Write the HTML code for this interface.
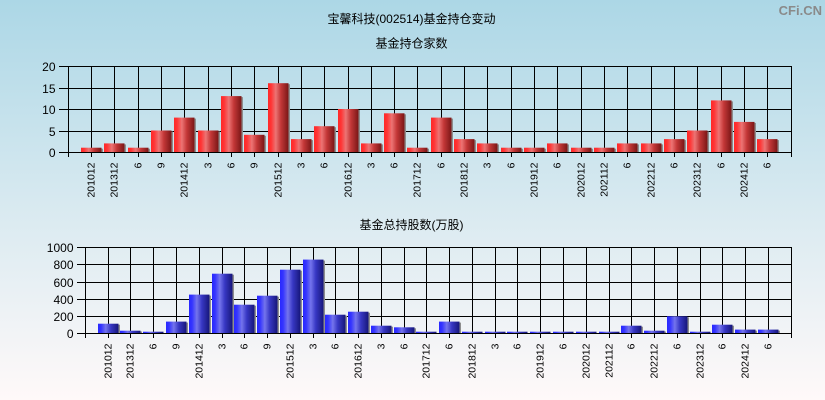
<!DOCTYPE html>
<html>
<head>
<meta charset="utf-8">
<style>
html,body{margin:0;padding:0;}
body{width:825px;height:400px;overflow:hidden;}
svg{display:block;}
text{font-family:"Liberation Sans","Noto Sans CJK SC",sans-serif;fill:#000;}
.yl{font-size:12px;text-anchor:end;}
.xl{font-size:10.5px;text-anchor:end;}
.t{font-size:12px;text-anchor:middle;}
</style>
</head>
<body>
<svg width="825" height="400" viewBox="0 0 825 400" xmlns="http://www.w3.org/2000/svg">
<defs>
<linearGradient id="bg" x1="0" y1="0" x2="0" y2="1">
<stop offset="0" stop-color="#acd7e6"/>
<stop offset="0.5" stop-color="#d7e9f0"/>
<stop offset="1" stop-color="#fff9f9"/>
</linearGradient>
<linearGradient id="red" x1="0" y1="0" x2="1" y2="0">
<stop offset="0" stop-color="#ff2828"/>
<stop offset="0.15" stop-color="#ff3434"/>
<stop offset="0.38" stop-color="#ec7474"/>
<stop offset="0.62" stop-color="#c43838"/>
<stop offset="1" stop-color="#7a1616"/>
</linearGradient>
<linearGradient id="blue" x1="0" y1="0" x2="1" y2="0">
<stop offset="0" stop-color="#2828ff"/>
<stop offset="0.15" stop-color="#3434ff"/>
<stop offset="0.38" stop-color="#7474ec"/>
<stop offset="0.62" stop-color="#3838c4"/>
<stop offset="1" stop-color="#16167a"/>
</linearGradient>
</defs>
<rect x="0" y="0" width="825" height="400" fill="url(#bg)"/>

<!-- titles -->
<text class="t" x="411.5" y="23">宝馨科技(002514)基金持仓变动</text>
<text class="t" x="411.5" y="47.5">基金持仓家数</text>
<text class="t" x="411.5" y="229">基金总持股数(万股)</text>
<text x="822" y="15" style="font-size:13px;font-weight:bold;fill:#8a8a8a;text-anchor:end;">CFi.CN</text>

<!-- ================= TOP CHART ================= -->
<!-- grid top -->
<g stroke="#000" stroke-width="1" shape-rendering="crispEdges" fill="none">
<path d="M59 66.5H791.5M59 88.5H791.5M59 109.5H791.5M59 131.5H791.5M59 152.5H791.5"/>
<path d="M68.5 66V157M91.5 66V157M114.5 66V157M138.5 66V157M161.5 66V157M184.5 66V157M208.5 66V157M231.5 66V157M254.5 66V157M278.5 66V157M301.5 66V157M324.5 66V157M348.5 66V157M371.5 66V157M394.5 66V157M417.5 66V157M441.5 66V157M464.5 66V157M487.5 66V157M511.5 66V157M534.5 66V157M557.5 66V157M581.5 66V157M604.5 66V157M627.5 66V157M651.5 66V157M674.5 66V157M697.5 66V157M721.5 66V157M744.5 66V157M767.5 66V157M791.5 66V157"/>
</g>
<g fill="url(#red)">
<rect x="81" y="147.7" width="20.5" height="4.3"/>
<rect x="104" y="143.4" width="20.5" height="8.6"/>
<rect x="128" y="147.7" width="20.5" height="4.3"/>
<rect x="151" y="130.5" width="20.5" height="21.5"/>
<rect x="174" y="117.6" width="20.5" height="34.4"/>
<rect x="198" y="130.5" width="20.5" height="21.5"/>
<rect x="221" y="96.1" width="20.5" height="55.9"/>
<rect x="244" y="134.8" width="20.5" height="17.2"/>
<rect x="268" y="83.2" width="20.5" height="68.8"/>
<rect x="291" y="139.1" width="20.5" height="12.9"/>
<rect x="314" y="126.2" width="20.5" height="25.8"/>
<rect x="338" y="109" width="20.5" height="43"/>
<rect x="361" y="143.4" width="20.5" height="8.6"/>
<rect x="384" y="113.3" width="20.5" height="38.7"/>
<rect x="407" y="147.7" width="20.5" height="4.3"/>
<rect x="431" y="117.6" width="20.5" height="34.4"/>
<rect x="454" y="139.1" width="20.5" height="12.9"/>
<rect x="477" y="143.4" width="20.5" height="8.6"/>
<rect x="501" y="147.7" width="20.5" height="4.3"/>
<rect x="524" y="147.7" width="20.5" height="4.3"/>
<rect x="547" y="143.4" width="20.5" height="8.6"/>
<rect x="571" y="147.7" width="20.5" height="4.3"/>
<rect x="594" y="147.7" width="20.5" height="4.3"/>
<rect x="617" y="143.4" width="20.5" height="8.6"/>
<rect x="641" y="143.4" width="20.5" height="8.6"/>
<rect x="664" y="139.1" width="20.5" height="12.9"/>
<rect x="687" y="130.5" width="20.5" height="21.5"/>
<rect x="711" y="100.4" width="20.5" height="51.6"/>
<rect x="734" y="121.9" width="20.5" height="30.1"/>
<rect x="757" y="139.1" width="20.5" height="12.9"/>
</g>
<!-- shadows top -->
<g fill="#8e8e8e">
<rect x="101.5" y="148.7" width="1.5" height="3.3"/>
<rect x="124.5" y="144.4" width="1.5" height="7.6"/>
<rect x="148.5" y="148.7" width="1.5" height="3.3"/>
<rect x="171.5" y="131.5" width="1.5" height="20.5"/>
<rect x="194.5" y="118.6" width="1.5" height="33.4"/>
<rect x="218.5" y="131.5" width="1.5" height="20.5"/>
<rect x="241.5" y="97.1" width="1.5" height="54.9"/>
<rect x="264.5" y="135.8" width="1.5" height="16.2"/>
<rect x="288.5" y="84.2" width="1.5" height="67.8"/>
<rect x="311.5" y="140.1" width="1.5" height="11.9"/>
<rect x="334.5" y="127.2" width="1.5" height="24.8"/>
<rect x="358.5" y="110" width="1.5" height="42"/>
<rect x="381.5" y="144.4" width="1.5" height="7.6"/>
<rect x="404.5" y="114.3" width="1.5" height="37.7"/>
<rect x="427.5" y="148.7" width="1.5" height="3.3"/>
<rect x="451.5" y="118.6" width="1.5" height="33.4"/>
<rect x="474.5" y="140.1" width="1.5" height="11.9"/>
<rect x="497.5" y="144.4" width="1.5" height="7.6"/>
<rect x="521.5" y="148.7" width="1.5" height="3.3"/>
<rect x="544.5" y="148.7" width="1.5" height="3.3"/>
<rect x="567.5" y="144.4" width="1.5" height="7.6"/>
<rect x="591.5" y="148.7" width="1.5" height="3.3"/>
<rect x="614.5" y="148.7" width="1.5" height="3.3"/>
<rect x="637.5" y="144.4" width="1.5" height="7.6"/>
<rect x="661.5" y="144.4" width="1.5" height="7.6"/>
<rect x="684.5" y="140.1" width="1.5" height="11.9"/>
<rect x="707.5" y="131.5" width="1.5" height="20.5"/>
<rect x="731.5" y="101.4" width="1.5" height="50.6"/>
<rect x="754.5" y="122.9" width="1.5" height="29.1"/>
<rect x="777.5" y="140.1" width="1.5" height="11.9"/>
</g>
<!-- y labels top -->
<text class="yl" x="55.5" y="70.8">20</text>
<text class="yl" x="55.5" y="92.8">15</text>
<text class="yl" x="55.5" y="113.8">10</text>
<text class="yl" x="55.5" y="135.8">5</text>
<text class="yl" x="55.5" y="156.8">0</text>
<!-- x labels top -->
<g>
<text class="xl" transform="translate(94.5,162.5) rotate(-90)">201012</text>
<text class="xl" transform="translate(117.5,162.5) rotate(-90)">201312</text>
<text class="xl" transform="translate(141.5,162.5) rotate(-90)">6</text>
<text class="xl" transform="translate(164.5,162.5) rotate(-90)">9</text>
<text class="xl" transform="translate(187.5,162.5) rotate(-90)">201412</text>
<text class="xl" transform="translate(211.5,162.5) rotate(-90)">3</text>
<text class="xl" transform="translate(234.5,162.5) rotate(-90)">6</text>
<text class="xl" transform="translate(257.5,162.5) rotate(-90)">9</text>
<text class="xl" transform="translate(281.5,162.5) rotate(-90)">201512</text>
<text class="xl" transform="translate(304.5,162.5) rotate(-90)">3</text>
<text class="xl" transform="translate(327.5,162.5) rotate(-90)">6</text>
<text class="xl" transform="translate(351.5,162.5) rotate(-90)">201612</text>
<text class="xl" transform="translate(374.5,162.5) rotate(-90)">3</text>
<text class="xl" transform="translate(397.5,162.5) rotate(-90)">6</text>
<text class="xl" transform="translate(420.5,162.5) rotate(-90)">201712</text>
<text class="xl" transform="translate(444.5,162.5) rotate(-90)">6</text>
<text class="xl" transform="translate(467.5,162.5) rotate(-90)">201812</text>
<text class="xl" transform="translate(490.5,162.5) rotate(-90)">3</text>
<text class="xl" transform="translate(514.5,162.5) rotate(-90)">6</text>
<text class="xl" transform="translate(537.5,162.5) rotate(-90)">201912</text>
<text class="xl" transform="translate(560.5,162.5) rotate(-90)">6</text>
<text class="xl" transform="translate(584.5,162.5) rotate(-90)">202012</text>
<text class="xl" transform="translate(607.5,162.5) rotate(-90)">202112</text>
<text class="xl" transform="translate(630.5,162.5) rotate(-90)">6</text>
<text class="xl" transform="translate(654.5,162.5) rotate(-90)">202212</text>
<text class="xl" transform="translate(677.5,162.5) rotate(-90)">6</text>
<text class="xl" transform="translate(700.5,162.5) rotate(-90)">202312</text>
<text class="xl" transform="translate(724.5,162.5) rotate(-90)">6</text>
<text class="xl" transform="translate(747.5,162.5) rotate(-90)">202412</text>
<text class="xl" transform="translate(770.5,162.5) rotate(-90)">6</text>
</g>

<!-- ================= BOTTOM CHART ================= -->
<!-- grid bottom -->
<g stroke="#000" stroke-width="1" shape-rendering="crispEdges" fill="none">
<path d="M77 247.5H791.5M77 264.5H791.5M77 282.5H791.5M77 299.5H791.5M77 316.5H791.5M77 333.5H791.5"/>
<path d="M85.5 247V338M108.5 247V338M130.5 247V338M153.5 247V338M176.5 247V338M199.5 247V338M222.5 247V338M244.5 247V338M267.5 247V338M290.5 247V338M313.5 247V338M335.5 247V338M358.5 247V338M381.5 247V338M404.5 247V338M426.5 247V338M449.5 247V338M472.5 247V338M495.5 247V338M517.5 247V338M540.5 247V338M563.5 247V338M586.5 247V338M609.5 247V338M631.5 247V338M654.5 247V338M677.5 247V338M700.5 247V338M722.5 247V338M745.5 247V338M768.5 247V338M791.5 247V338"/>
</g>
<g fill="url(#blue)">
<rect x="98" y="323.7" width="20.5" height="9.3"/>
<rect x="120" y="330.7" width="20.5" height="2.3"/>
<rect x="143" y="331.7" width="20.5" height="1.3"/>
<rect x="166" y="321.6" width="20.5" height="11.4"/>
<rect x="189" y="294.6" width="20.5" height="38.4"/>
<rect x="212" y="273.7" width="20.5" height="59.3"/>
<rect x="234" y="304.7" width="20.5" height="28.3"/>
<rect x="257" y="295.7" width="20.5" height="37.3"/>
<rect x="280" y="269.7" width="20.5" height="63.3"/>
<rect x="303" y="259.6" width="20.5" height="73.4"/>
<rect x="325" y="314.7" width="20.5" height="18.3"/>
<rect x="348" y="311.7" width="20.5" height="21.3"/>
<rect x="371" y="325.7" width="20.5" height="7.3"/>
<rect x="394" y="327.3" width="20.5" height="5.7"/>
<rect x="416" y="331.7" width="20.5" height="1.3"/>
<rect x="439" y="321.6" width="20.5" height="11.4"/>
<rect x="462" y="331.7" width="20.5" height="1.3"/>
<rect x="485" y="331.7" width="20.5" height="1.3"/>
<rect x="507" y="331.7" width="20.5" height="1.3"/>
<rect x="530" y="331.7" width="20.5" height="1.3"/>
<rect x="553" y="331.7" width="20.5" height="1.3"/>
<rect x="576" y="331.7" width="20.5" height="1.3"/>
<rect x="599" y="331.7" width="20.5" height="1.3"/>
<rect x="621" y="325.7" width="20.5" height="7.3"/>
<rect x="644" y="330.7" width="20.5" height="2.3"/>
<rect x="667" y="316.3" width="20.5" height="16.7"/>
<rect x="690" y="331.7" width="20.5" height="1.3"/>
<rect x="712" y="324.7" width="20.5" height="8.3"/>
<rect x="735" y="329.6" width="20.5" height="3.4"/>
<rect x="758" y="329.6" width="20.5" height="3.4"/>
</g>
<!-- shadows bottom -->
<g fill="#8e8e8e">
<rect x="118.5" y="324.7" width="1.5" height="8.3"/>
<rect x="140.5" y="331.5" width="1.5" height="1.5"/>
<rect x="186.5" y="322.6" width="1.5" height="10.4"/>
<rect x="209.5" y="295.6" width="1.5" height="37.4"/>
<rect x="232.5" y="274.7" width="1.5" height="58.3"/>
<rect x="254.5" y="305.7" width="1.5" height="27.3"/>
<rect x="277.5" y="296.7" width="1.5" height="36.3"/>
<rect x="300.5" y="270.7" width="1.5" height="62.3"/>
<rect x="323.5" y="260.6" width="1.5" height="72.4"/>
<rect x="345.5" y="315.7" width="1.5" height="17.3"/>
<rect x="368.5" y="312.7" width="1.5" height="20.3"/>
<rect x="391.5" y="326.7" width="1.5" height="6.3"/>
<rect x="414.5" y="328.3" width="1.5" height="4.7"/>
<rect x="459.5" y="322.6" width="1.5" height="10.4"/>
<rect x="641.5" y="326.7" width="1.5" height="6.3"/>
<rect x="664.5" y="331.5" width="1.5" height="1.5"/>
<rect x="687.5" y="317.3" width="1.5" height="15.7"/>
<rect x="732.5" y="325.7" width="1.5" height="7.3"/>
<rect x="755.5" y="330.6" width="1.5" height="2.4"/>
<rect x="778.5" y="330.6" width="1.5" height="2.4"/>
</g>
<!-- y labels bottom -->
<text class="yl" x="73.5" y="251.8">1000</text>
<text class="yl" x="73.5" y="268.8">800</text>
<text class="yl" x="73.5" y="286.8">600</text>
<text class="yl" x="73.5" y="303.8">400</text>
<text class="yl" x="73.5" y="320.8">200</text>
<text class="yl" x="73.5" y="337.8">0</text>
<!-- x labels bottom -->
<g>
<text class="xl" transform="translate(111.5,343.5) rotate(-90)">201012</text>
<text class="xl" transform="translate(133.5,343.5) rotate(-90)">201312</text>
<text class="xl" transform="translate(156.5,343.5) rotate(-90)">6</text>
<text class="xl" transform="translate(179.5,343.5) rotate(-90)">9</text>
<text class="xl" transform="translate(202.5,343.5) rotate(-90)">201412</text>
<text class="xl" transform="translate(225.5,343.5) rotate(-90)">3</text>
<text class="xl" transform="translate(247.5,343.5) rotate(-90)">6</text>
<text class="xl" transform="translate(270.5,343.5) rotate(-90)">9</text>
<text class="xl" transform="translate(293.5,343.5) rotate(-90)">201512</text>
<text class="xl" transform="translate(316.5,343.5) rotate(-90)">3</text>
<text class="xl" transform="translate(338.5,343.5) rotate(-90)">6</text>
<text class="xl" transform="translate(361.5,343.5) rotate(-90)">201612</text>
<text class="xl" transform="translate(384.5,343.5) rotate(-90)">3</text>
<text class="xl" transform="translate(407.5,343.5) rotate(-90)">6</text>
<text class="xl" transform="translate(429.5,343.5) rotate(-90)">201712</text>
<text class="xl" transform="translate(452.5,343.5) rotate(-90)">6</text>
<text class="xl" transform="translate(475.5,343.5) rotate(-90)">201812</text>
<text class="xl" transform="translate(498.5,343.5) rotate(-90)">3</text>
<text class="xl" transform="translate(520.5,343.5) rotate(-90)">6</text>
<text class="xl" transform="translate(543.5,343.5) rotate(-90)">201912</text>
<text class="xl" transform="translate(566.5,343.5) rotate(-90)">6</text>
<text class="xl" transform="translate(589.5,343.5) rotate(-90)">202012</text>
<text class="xl" transform="translate(612.5,343.5) rotate(-90)">202112</text>
<text class="xl" transform="translate(634.5,343.5) rotate(-90)">6</text>
<text class="xl" transform="translate(657.5,343.5) rotate(-90)">202212</text>
<text class="xl" transform="translate(680.5,343.5) rotate(-90)">6</text>
<text class="xl" transform="translate(703.5,343.5) rotate(-90)">202312</text>
<text class="xl" transform="translate(725.5,343.5) rotate(-90)">6</text>
<text class="xl" transform="translate(748.5,343.5) rotate(-90)">202412</text>
<text class="xl" transform="translate(771.5,343.5) rotate(-90)">6</text>
</g>
</svg>
</body>
</html>
